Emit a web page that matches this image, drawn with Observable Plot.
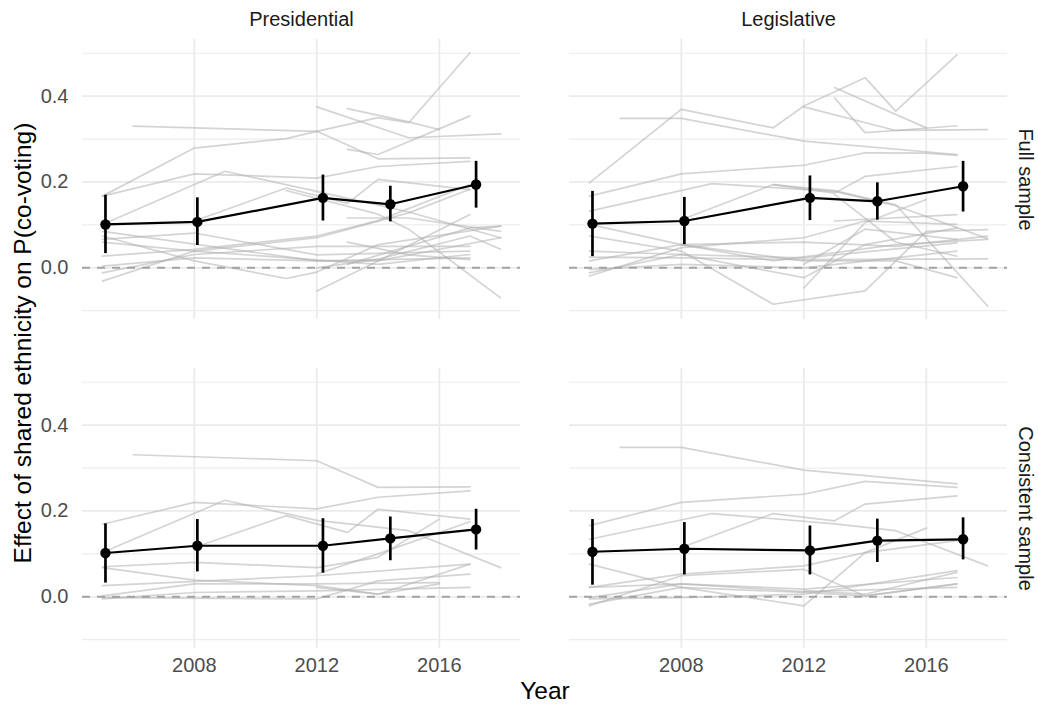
<!DOCTYPE html>
<html><head><meta charset="utf-8">
<script src="https://cdn.jsdelivr.net/npm/d3@7"></script>
<script src="https://cdn.jsdelivr.net/npm/@observablehq/plot@0.6"></script>
<style>body{margin:0;background:#fff} svg{display:block}</style>
</head><body><div id="chart"></div>
<script>
// ---- categories ----
const electionTypes = ["Presidential", "Legislative"];
const samples = ["Full sample", "Consistent sample"];

// ---- pooled estimates (black) ----
const waveYears = [2005.1, 2008.1, 2012.2, 2014.4, 2017.2];
const presFullEst = [0.101, 0.107, 0.163, 0.148, 0.194];
const presFullLo  = [0.033, 0.052, 0.109, 0.107, 0.139];
const presFullHi  = [0.169, 0.163, 0.216, 0.190, 0.248];
const legFullEst  = [0.103, 0.109, 0.163, 0.155, 0.190];
const legFullLo   = [0.026, 0.054, 0.110, 0.111, 0.130];
const legFullHi   = [0.178, 0.164, 0.214, 0.198, 0.248];
const presConsEst = [0.102, 0.119, 0.119, 0.136, 0.157];
const presConsLo  = [0.032, 0.058, 0.055, 0.084, 0.109];
const presConsHi  = [0.170, 0.180, 0.182, 0.186, 0.204];
const legConsEst  = [0.105, 0.112, 0.108, 0.131, 0.134];
const legConsLo   = [0.027, 0.051, 0.051, 0.080, 0.086];
const legConsHi   = [0.180, 0.173, 0.165, 0.181, 0.184];

// ---- country trajectories (gray), [year, estimate] ----
const presFullLines = [
  [[2006,0.330],[2012,0.318],[2014,0.254],[2017,0.256]],
  [[2005,0.167],[2008,0.279],[2011,0.301],[2012,0.318],[2014,0.350],[2015,0.338],[2017,0.501]],
  [[2012,0.375],[2015,0.303],[2018,0.312]],
  [[2013,0.371],[2015,0.340],[2016,0.322]],
  [[2013,0.276],[2014,0.264],[2017,0.354]],
  [[2005,0.167],[2008,0.219],[2012,0.209],[2014,0.236],[2017,0.248]],
  [[2005,0.101],[2009,0.225],[2012,0.178],[2015,0.130],[2018,0.070]],
  [[2008,0.109],[2011,0.186],[2013,0.150],[2014,0.206],[2017,0.182]],
  [[2013,0.116],[2015,0.116],[2018,0.085]],
  [[2011,0.180],[2014,0.125],[2015,0.090],[2018,-0.070]],
  [[2012,-0.054],[2014,0.016],[2017,0.124]],
  [[2005,-0.031],[2008,0.039],[2012,0.070],[2015,0.128],[2017,0.183]],
  [[2005,0.074],[2008,0.016],[2011,-0.025],[2012,-0.010],[2014,0.054],[2018,0.097]],
  [[2005,0.066],[2008,0.081],[2012,0.030],[2017,0.039]],
  [[2005,0.060],[2008,0.039],[2014,0.008],[2017,0.031]],
  [[2005,0.027],[2008,0.043],[2012,0.074],[2014,0.110],[2017,0.194]],
  [[2005,0.004],[2008,0.023],[2012,0.016],[2017,0.023]],
  [[2005,-0.012],[2008,0.031],[2012,0.050],[2017,0.050]],
  [[2005,0.085],[2012,0.016],[2014,0.016],[2018,0.070]],
  [[2013,0.008],[2017,0.093],[2018,0.097]],
  [[2012,0.000],[2014,0.020],[2017,0.074],[2018,0.043]],
  [[2013,0.060],[2015,0.030],[2017,0.019]]
];
const legFullLines = [
  [[2005,0.198],[2008,0.369],[2011,0.326],[2012,0.377],[2014,0.443],[2015,0.365],[2017,0.496]],
  [[2006,0.348],[2008,0.348],[2012,0.295],[2017,0.264]],
  [[2013,0.420],[2016,0.326]],
  [[2013,0.396],[2014,0.315],[2015,0.320],[2017,0.331]],
  [[2012,0.375],[2015,0.320],[2018,0.322]],
  [[2005,0.167],[2008,0.219],[2012,0.239],[2014,0.268],[2016,0.267],[2017,0.262]],
  [[2005,0.132],[2009,0.196],[2013,0.178],[2015,0.145],[2018,0.068]],
  [[2008,0.112],[2011,0.194],[2013,0.174],[2014,0.213],[2017,0.236]],
  [[2011,0.194],[2013,0.180],[2015,0.147],[2018,-0.089]],
  [[2012,-0.047],[2014,0.105],[2016,0.159]],
  [[2005,0.074],[2008,0.039],[2011,-0.085],[2014,-0.054],[2016,0.085],[2018,0.089]],
  [[2005,0.101],[2008,0.054],[2012,0.016],[2015,0.016],[2017,-0.023]],
  [[2005,-0.019],[2008,0.047],[2012,0.070],[2014,0.109],[2017,0.101]],
  [[2005,-0.012],[2008,0.031],[2012,0.023],[2017,0.058]],
  [[2005,-0.004],[2008,0.008],[2012,0.000],[2017,0.039]],
  [[2005,0.025],[2008,0.023],[2012,0.019],[2018,0.021]],
  [[2005,0.039],[2008,0.031],[2012,-0.023],[2014,0.054],[2017,0.093]],
  [[2013,0.109],[2017,0.124]],
  [[2012,0.008],[2014,0.090],[2017,0.066]],
  [[2005,0.016],[2008,0.054],[2012,0.060],[2015,0.050],[2018,0.074]],
  [[2013,0.171],[2015,0.060],[2017,0.027]],
  [[2008,0.054],[2011,0.016],[2015,0.054],[2018,0.066]]
];
const presConsLines = [
  [[2006,0.331],[2012,0.317],[2014,0.255],[2017,0.256]],
  [[2005,0.169],[2008,0.220],[2012,0.205],[2014,0.232],[2017,0.247]],
  [[2005,0.103],[2009,0.225],[2012,0.178],[2015,0.154],[2018,0.068]],
  [[2008,0.115],[2011,0.189],[2013,0.150],[2014,0.204],[2017,0.181]],
  [[2005,0.070],[2008,0.080],[2012,0.068],[2014,0.092],[2016,0.181]],
  [[2005,0.068],[2008,0.039],[2012,0.026],[2014,0.006],[2016,0.030]],
  [[2005,0.026],[2012,0.049],[2017,0.076]],
  [[2005,0.002],[2008,0.030],[2012,0.030],[2016,0.033]],
  [[2005,-0.002],[2012,-0.005],[2014,0.037],[2017,0.053]],
  [[2012,0.022],[2014,0.006],[2017,0.076]],
  [[2005,-0.005],[2008,0.010],[2012,0.014],[2017,0.022]],
  [[2012,0.053],[2014,0.100],[2017,0.175]]
];
const legConsLines = [
  [[2006,0.348],[2008,0.348],[2012,0.295],[2017,0.263]],
  [[2005,0.166],[2008,0.220],[2012,0.239],[2014,0.269],[2017,0.255]],
  [[2005,0.134],[2009,0.194],[2013,0.170],[2015,0.154],[2018,0.072]],
  [[2008,0.115],[2011,0.194],[2013,0.177],[2014,0.216],[2017,0.235]],
  [[2005,0.076],[2008,0.022],[2012,0.010],[2014,0.002],[2017,0.030]],
  [[2005,0.022],[2008,0.053],[2012,0.072],[2014,0.103],[2017,0.131]],
  [[2005,-0.002],[2008,0.030],[2012,0.018],[2017,0.045]],
  [[2005,-0.021],[2008,0.049],[2012,0.064],[2014,0.002],[2017,0.030]],
  [[2005,-0.017],[2008,0.022],[2012,-0.021],[2014,0.103],[2016,0.160]],
  [[2005,-0.005],[2008,-0.002],[2012,0.006],[2017,0.061]],
  [[2012,0.014],[2014,0.006],[2017,0.057]],
  [[2005,0.022],[2008,0.030],[2012,0.012],[2017,0.022]]
];

// ---- axis ticks ----
const xTicks = [2008, 2012, 2016];
const yTicks = [0, 0.2, 0.4];
const yMinor = [-0.1, 0.1, 0.3, 0.5];

// ---- build tables ----
const panels = [
  {type: electionTypes[0], sample: samples[0], est: presFullEst, lo: presFullLo, hi: presFullHi, lines: presFullLines},
  {type: electionTypes[1], sample: samples[0], est: legFullEst, lo: legFullLo, hi: legFullHi, lines: legFullLines},
  {type: electionTypes[0], sample: samples[1], est: presConsEst, lo: presConsLo, hi: presConsHi, lines: presConsLines},
  {type: electionTypes[1], sample: samples[1], est: legConsEst, lo: legConsLo, hi: legConsHi, lines: legConsLines}
];
const grayRows = [];
const pooledRows = [];
panels.forEach((p, pi) => {
  p.lines.forEach((ln, li) => ln.forEach(([year, value]) =>
    grayRows.push({type: p.type, sample: p.sample, id: pi + "-" + li, year, value})));
  waveYears.forEach((year, i) =>
    pooledRows.push({type: p.type, sample: p.sample, year, value: p.est[i], lo: p.lo[i], hi: p.hi[i]}));
});

const font = "'Liberation Sans', Arial, Helvetica, sans-serif";
const W = 1038, H = 707, mL = 82, mR = 30, mT = 38, mB = 59;

const svg = Plot.plot({
  width: W, height: H,
  marginLeft: mL, marginRight: mR, marginTop: mT, marginBottom: mB,
  style: {fontFamily: font, fontSize: "20px", background: "#fff", overflow: "visible"},
  x: {domain: [2004.35, 2018.65], label: null},
  y: {domain: [-0.1205, 0.532], label: null},
  fx: {domain: electionTypes, paddingInner: 0.1, paddingOuter: 0, label: null},
  fy: {domain: samples, paddingInner: 0.15, paddingOuter: 0, label: null},
  marks: [
    Plot.ruleY(yMinor, {stroke: "#ededed", strokeWidth: 1.2}),
    Plot.ruleY(yTicks, {stroke: "#ebebeb", strokeWidth: 1.8}),
    Plot.ruleX(xTicks, {stroke: "#ebebeb", strokeWidth: 1.8}),
    Plot.line(grayRows, {x: "year", y: "value", z: "id", fx: "type", fy: "sample",
      stroke: "#b0b0b0", strokeOpacity: 0.55, strokeWidth: 1.7}),
    Plot.ruleY([0], {stroke: "#a3a3a3", strokeWidth: 2, strokeDasharray: "8,7"}),
    Plot.ruleX(pooledRows, {x: "year", y1: "lo", y2: "hi", fx: "type", fy: "sample",
      stroke: "#000", strokeWidth: 2.7}),
    Plot.line(pooledRows, {x: "year", y: "value", fx: "type", fy: "sample",
      stroke: "#000", strokeWidth: 2.2}),
    Plot.dot(pooledRows, {x: "year", y: "value", fx: "type", fy: "sample",
      r: 5.2, fill: "#000", stroke: null}),
    Plot.axisX({ticks: xTicks, tickFormat: d => String(d), tickSize: 0, tickPadding: 9,
      fontSize: 20, fill: "#4d4d4d", label: null}),
    Plot.axisY({ticks: yTicks, tickFormat: d3.format(".1f"), tickSize: 0, tickPadding: 14,
      fontSize: 20, fill: "#4d4d4d", label: null}),
    Plot.axisFx({anchor: "top", tickSize: 0, tickPadding: 14, fontSize: 20, fill: "#1a1a1a", label: null}),
    Plot.axisFy({anchor: "right", tickSize: 0, tickPadding: 26, tickRotate: 90, fontSize: 20, fill: "#1a1a1a", label: null})
  ]
});

const s = d3.select(svg);
s.append("text")
  .attr("transform", `translate(22, ${(mT + H - mB) / 2}) rotate(-90)`)
  .attr("text-anchor", "middle").attr("dominant-baseline", "central")
  .attr("font-family", font).attr("font-size", 24.5).attr("fill", "#000")
  .text("Effect of shared ethnicity on P(co-voting)");
s.append("text")
  .attr("x", (mL + W - mR) / 2).attr("y", 690)
  .attr("text-anchor", "middle").attr("dominant-baseline", "central")
  .attr("font-family", font).attr("font-size", 24.5).attr("fill", "#000")
  .text("Year");

document.getElementById("chart").appendChild(svg);
</script>
</body></html>
